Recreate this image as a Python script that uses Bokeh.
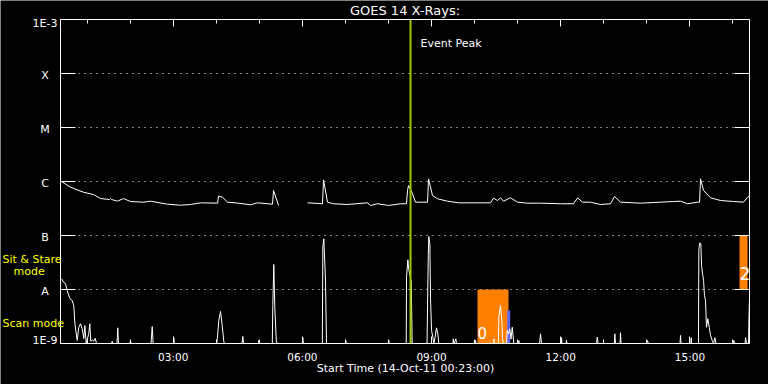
import numpy as np
from bokeh.plotting import figure
from bokeh.models import (Range1d, FixedTicker, LinearAxis, LogAxis, Label,
                          LabelSet, ColumnDataSource)
from bokeh.core.properties import value
from bokeh.embed import file_html
from bokeh.resources import INLINE

# ---------------- data ----------------
START_HOUR = 23 / 60.0          # start time 14-Oct-11 00:23:00
SPAN_HOURS = 16.0

# GOES 14 long channel: minutes after start, flux (W/m^2)
long_t = [1.4, 13.9, 32.0, 46.0, 55.7, 68.3, 69.7, 71.1, 79.4, 87.8, 97.5, 115.7,
          125.4, 149.0, 167.2, 181.1, 195.0, 218.8, 220.2, 225.7, 232.7, 248.0,
          264.7, 274.5, 295.4, 296.8, 303.8, 320.0, 344.2, 365.0, 366.5, 372.0,
          380.4, 399.9, 427.8, 432.0, 441.7, 457.0, 473.8, 482.1, 483.5, 484.9,
          490.5, 494.7, 511.4, 512.8, 518.3, 525.3, 539.2, 554.6, 599.2, 603.3,
          608.9, 613.1, 617.3, 627.0, 636.8, 650.7, 668.8, 696.7, 714.8, 720.4,
          727.4, 738.5, 752.4, 766.4, 771.9, 780.3, 808.2, 854.2, 863.9, 873.7,
          887.6, 890.4, 891.8, 896.0, 905.7, 919.6, 937.8, 951.7, 957.3, 960.0]
long_flux = [1.00e-6, 7.84e-7, 6.33e-7, 5.74e-7, 4.84e-7, 4.64e-7, 4.84e-7, 4.64e-7,
             4.32e-7, 4.84e-7, 4.26e-7, 4.14e-7, 4.32e-7, 3.80e-7, 3.64e-7, 3.75e-7,
             4.03e-7, 3.97e-7, 5.35e-7, 5.12e-7, 4.14e-7, 3.97e-7, 3.70e-7, 4.03e-7,
             3.80e-7, 6.81e-7, 3.60e-7, float("nan"), 4.03e-7, 3.87e-7, 1.07e-6, 4.14e-7,
             3.87e-7, 3.75e-7, 4.03e-7, 3.60e-7, 3.87e-7, 3.60e-7, 3.87e-7, 3.87e-7,
             6.81e-7, 8.43e-7, 5.91e-7, 4.14e-7, 4.14e-7, 1.12e-6, 5.51e-7, 4.78e-7,
             4.32e-7, 4.03e-7, 4.03e-7, 4.91e-7, 4.45e-7, 4.99e-7, 4.32e-7, 4.99e-7,
             4.14e-7, 3.97e-7, 3.97e-7, 3.87e-7, 3.87e-7, 4.99e-7, 4.14e-7, 4.14e-7,
             3.75e-7, 3.87e-7, 5.28e-7, 4.14e-7, 3.97e-7, 4.26e-7, 4.32e-7, 3.87e-7,
             4.14e-7, 4.14e-7, 1.12e-6, 6.81e-7, 4.99e-7, 4.45e-7, 4.26e-7, 4.14e-7,
             5.12e-7, 5.28e-7]

# GOES 14 short channel: minutes after start, flux (W/m^2)
short_t = [1.4, 4.6, 7.0, 9.3, 13.0, 16.3, 18.5, 19.9, 21.3, 23.3, 25.5, 27.9, 30.2,
           32.5, 33.9, 35.8, 39.4, 40.8, 42.2, 44.2, 46.4, 48.4, 50.2, 71.1, 72.0,
           73.2, 78.7, 79.8, 80.8, 96.8, 97.5, 98.2, 126.1, 127.8, 129.1, 157.5,
           157.9, 158.4, 217.4, 218.3, 220.6, 223.0, 225.3, 227.5, 228.5, 252.9,
           254.0, 255.0, 275.9, 276.3, 277.3, 295.1, 295.8, 297.2, 298.6, 300.6,
           301.7, 337.2, 337.6, 338.3, 364.8, 365.5, 366.9, 369.3, 370.6, 397.1,
           397.5, 398.1, 457.0, 457.5, 458.0, 481.7, 482.1, 484.0, 485.3, 488.7,
           490.0, 510.7, 512.4, 513.2, 514.6, 515.6, 517.0, 518.8, 520.2, 521.5,
           523.9, 525.7, 527.1, 546.9, 547.2, 548.3, 550.8, 551.8, 577.8, 578.3,
           579.0, 603.4, 603.8, 604.8, 610.1, 610.7, 613.1, 614.9, 615.9, 617.3,
           621.4, 622.4, 624.2, 626.0, 627.7, 629.4, 631.6, 638.2, 638.6, 639.1,
           667.5, 668.8, 670.2, 697.6, 698.1, 698.8, 704.3, 705.0, 705.7, 746.9,
           747.9, 749.0, 771.7, 772.4, 773.3, 779.6, 780.3, 781.0, 816.9, 817.5,
           819.3, 863.2, 863.9, 864.6, 878.3, 878.8, 879.2, 888.9, 889.4, 890.8,
           892.2, 893.2, 894.6, 896.0, 897.3, 898.7, 900.1, 901.9, 903.9, 905.7,
           908.1, 909.9, 911.7, 913.4, 937.8, 938.2, 938.8, 953.8, 954.5, 955.9,
           958.7, 959.1, 959.9]
short_flux = [1.58e-8, 1.35e-8, 1.29e-8, 9.58e-9, 6.81e-9, 6.25e-9, 5.06e-9, 2.48e-9,
              1.74e-9, 1.14e-9, 2.00e-9, 2.32e-9, 1.87e-9, 1.24e-9, 2.15e-9, 1.0e-9,
              1.53e-9, 2.32e-9, 1.10e-9, 1.17e-9, 1.10e-9, 1.25e-9, 1.0e-9, 1.0e-9,
              1.10e-9, 1.0e-9, 1.0e-9, 1.95e-9, 1.0e-9, 1.0e-9, 1.14e-9, 1.0e-9,
              1.0e-9, 2.06e-9, 1.0e-9, 1.0e-9, 1.28e-9, 1.0e-9, 1.0e-9, 1.14e-9,
              2.67e-9, 3.92e-9, 2.15e-9, 1.10e-9, 1.0e-9, 1.0e-9, 1.35e-9, 1.0e-9,
              1.0e-9, 1.14e-9, 1.0e-9, 1.0e-9, 5.06e-9, 2.90e-8, 4.70e-9, 1.17e-9,
              1.0e-9, 1.0e-9, 1.28e-9, 1.0e-9, 1.0e-9, 6.07e-8, 8.69e-8, 1.37e-8,
              1.0e-9, 1.0e-9, 1.14e-9, 1.0e-9, 1.0e-9, 1.14e-9, 1.0e-9, 1.0e-9,
              1.69e-8, 3.55e-8, 2.32e-8, 1.37e-8, 1.0e-9, 1.0e-9, 4.27e-8, 9.57e-8,
              7.02e-8, 6.73e-9, 1.74e-9, 1.31e-9, 1.0e-9, 1.22e-9, 1.95e-9, 1.51e-9,
              1.0e-9, 1.0e-9, 1.22e-9, 1.0e-9, 1.22e-9, 1.0e-9, 1.0e-9, 1.14e-9,
              1.0e-9, 1.0e-9, 1.22e-9, 1.0e-9, 1.0e-9, 3.07e-9, 5.06e-9, 2.75e-9,
              1.22e-9, 1.0e-9, 1.0e-9, 1.74e-9, 1.50e-9, 1.87e-9, 1.20e-9, 2.00e-9,
              1.0e-9, 1.0e-9, 1.14e-9, 1.0e-9, 1.0e-9, 1.51e-9, 1.0e-9, 1.0e-9,
              1.28e-9, 1.0e-9, 1.0e-9, 1.14e-9, 1.0e-9, 1.0e-9, 1.31e-9, 1.0e-9,
              1.0e-9, 1.51e-9, 1.0e-9, 1.0e-9, 1.58e-9, 1.0e-9, 1.0e-9, 1.14e-9,
              1.0e-9, 1.0e-9, 1.41e-9, 1.0e-9, 1.0e-9, 1.28e-9, 1.0e-9, 1.0e-9,
              5.51e-8, 7.32e-8, 7.02e-8, 2.78e-8, 1.95e-8, 1.47e-8, 7.74e-9, 6.25e-9,
              2.00e-9, 2.87e-9, 2.00e-9, 1.41e-9, 1.14e-9, 1.0e-9, 1.28e-9, 1.0e-9,
              1.0e-9, 1.14e-9, 1.0e-9, 1.0e-9, 1.28e-9, 1.0e-9, 1.0e-9, 2.48e-9,
              6.25e-9]

# blue segment (third trace)
blue_t = [624.5, 624.5]
blue_flux = [1.0e-9, 4.1e-9]

# observing-mode boxes
mode_start = [581.0, 946.1]
mode_end = [624.2, 957.3]
mode_low = [1.0e-9, 1.0e-8]
mode_high = [1.0e-8, 1.0e-7]
mode_code = ["0", "2"]

event_peak_t = 487.7

y_ticks = [1e-9, 1e-8, 1e-7, 1e-6, 1e-5, 1e-4, 1e-3]
y_tick_labels = ["1E-9", "A", "B", "C", "M", "X", "1E-3"]
x_ticks = [3, 6, 9, 12, 15]
x_minor = [1, 2, 4, 5, 7, 8, 10, 11, 13, 14, 16]
x_tick_labels = ["03:00", "06:00", "09:00", "12:00", "15:00"]

# ---------------- helpers ----------------
FONT = "DejaVu Sans"
W, H = 768, 384
# plot box in canvas pixels
FL, FR, FT, FB = 60.0, 749.0, 19.0, 343.0
X0, X1 = START_HOUR, START_HOUR + SPAN_HOURS
Y0, Y1 = 1e-9, 1e-3


def hours(minutes):
    return START_HOUR + np.asarray(minutes, dtype=float) / 60.0


def px_x(px):
    return X0 + (px - FL) * (X1 - X0) / (FR - FL)


def px_y(py):
    return 10 ** (np.log10(Y1) - (py - FT) * (np.log10(Y1) - np.log10(Y0)) / (FB - FT))


# ---------------- figure ----------------
p = figure(width=W, height=H,
           x_range=Range1d(px_x(0), px_x(W)),
           y_range=Range1d(px_y(H), px_y(0)), y_axis_type="log",
           x_axis_location=None, y_axis_location=None,
           output_backend="svg", toolbar_location=None,
           min_border_left=0, min_border_right=0, min_border_top=0,
           min_border_bottom=0,
           background_fill_color="black", border_fill_color="black",
           outline_line_color=None)
p.grid.visible = False

xticker = FixedTicker(ticks=x_ticks, minor_ticks=x_minor)
yticker = FixedTicker(ticks=y_ticks)


def style_axis(ax, ticks, tick_in, minor_in, labels=None):
    ax.axis_line_color = "white"
    ax.axis_line_width = 1
    ax.major_tick_line_color = "white"
    ax.major_tick_in = tick_in
    ax.major_tick_out = 0
    if minor_in:
        ax.minor_tick_line_color = "white"
        ax.minor_tick_in = minor_in
        ax.minor_tick_out = 0
    else:
        ax.minor_tick_line_color = None
    ax.major_label_text_color = "white"
    ax.major_label_text_font = FONT
    ax.major_label_text_font_size = "10.5px"
    if labels is None:
        ax.major_label_overrides = {t: "" for t in ticks}
        ax.major_label_standoff = 0
    else:
        ax.major_label_overrides = {t: s for t, s in zip(ticks, labels)}
        ax.major_label_standoff = 7


# dotted class grid lines (one per y tick)
p.segment(x0=[X0] * len(y_ticks), x1=[X1] * len(y_ticks), y0=y_ticks, y1=y_ticks,
          line_color="white", line_width=1, line_dash="1 5")

# mode boxes
p.quad(left=hours(mode_start), right=hours(mode_end), bottom=mode_low,
       top=mode_high, fill_color="#ff8000", line_color=None)

# blue trace
p.line(hours(blue_t), blue_flux, line_color="#6464ff", line_width=3)

# data traces
p.line(hours(long_t), long_flux, line_color="white", line_width=1)
p.line(hours(short_t), short_flux, line_color="white", line_width=1)

# event peak
ev = float(hours(event_peak_t))
p.line([ev, ev], [Y0, Y1], line_color="#99cc00", line_width=2)

# axes drawn around the plot box
xb = LinearAxis(ticker=xticker, fixed_location=Y0, bounds=(X0, X1))
style_axis(xb, x_ticks, 7, 4, x_tick_labels)
p.add_layout(xb, "below")

xt = LinearAxis(ticker=xticker, fixed_location=Y1, bounds=(X0, X1))
style_axis(xt, x_ticks, 7, 4)
p.add_layout(xt, "above")

yl = LogAxis(ticker=yticker, fixed_location=X0, bounds=(Y0, Y1))
style_axis(yl, y_ticks, 15, 0)
p.add_layout(yl, "left")

yr = LogAxis(ticker=yticker, fixed_location=X1, bounds=(Y0, Y1))
style_axis(yr, y_ticks, 15, 0)
p.add_layout(yr, "right")


def add_label(x, y, text, size="11px", color="white", align="left"):
    p.add_layout(Label(x=float(x), y=float(y), text=text, text_color=color,
                       text_font=FONT, text_font_size=size, text_align=align,
                       text_baseline="middle"))


add_label(px_x(404.5), px_y(9.5), "GOES 14 X-Rays:", size="13px", align="center")
add_label(px_x(420), px_y(43), "Event Peak")
add_label(px_x(405), px_y(368), "Start Time (14-Oct-11 00:23:00)", align="center")
add_label(px_x(2), px_y(258.5), "Sit & Stare", color="#ffff00")
add_label(px_x(13), px_y(271), "mode", color="#ffff00")
add_label(px_x(2), px_y(323), "Scan mode", color="#ffff00")

# mode codes inside the boxes
add_label(hours(mode_start[0]), px_y(332.5), mode_code[0], size="15px")
add_label(hours(mode_start[1]), px_y(272.5), mode_code[1], size="17px")

# y tick labels (GOES classes), centred left of the axis
ylab_px = [340, 290.5, 236.5, 182.5, 128.5, 74.5, 23]
ysrc = ColumnDataSource(dict(x=[px_x(44.5)] * len(y_tick_labels),
                             y=[float(px_y(v)) for v in ylab_px],
                             text=y_tick_labels))
p.add_layout(LabelSet(x="x", y="y", text="text", source=ysrc,
                      text_color="white", text_font=value(FONT),
                      text_font_size="11px", text_align="center",
                      text_baseline="middle"))

open("out.html", "w").write(file_html(p, INLINE))
